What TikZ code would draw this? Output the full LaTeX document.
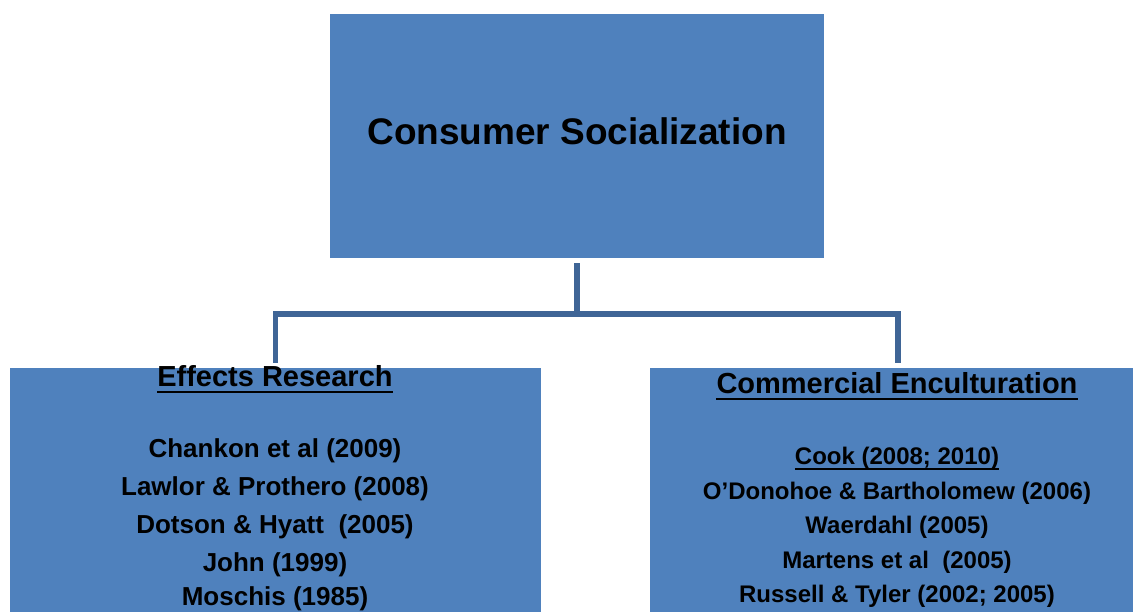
\documentclass[tikz,border=0pt]{standalone}
\usepackage{fontspec}
\setmainfont{Liberation Sans}
\definecolor{boxblue}{HTML}{4F81BD}
\definecolor{linkblue}{HTML}{3F6596}
\tikzset{
    panel/.style={fill=boxblue, draw=none, inner sep=0pt},
    link/.style={draw=linkblue, line width=5.5pt},
    entry/.style={anchor=base, inner sep=0pt, font=\bfseries\fontsize{#1}{#1}\selectfont},
    rulebar/.style={line width=2pt},
}
\begin{document}
\begin{tikzpicture}[x=1pt, y=-1pt]
    \useasboundingbox (0,0) rectangle (1133,612);

    % the three boxes
    \node[panel, minimum width=494pt, minimum height=244pt] (social) at (577,136) {};
    \node[panel, minimum width=531pt, minimum height=252pt] (effects) at (275.5,494) {};
    \node[panel, minimum width=496pt, minimum height=252pt] (enculture) at (898,494) {};

    % connectors
    \coordinate (hub) at (577,314);
    \draw[link] ([yshift=-5pt]social.south) -- (hub);
    \draw[link] (hub) -| ([yshift=5pt]effects.north);
    \draw[link] (hub) -| ([yshift=5pt]enculture.north);

    \node[entry=37] (socialtitle) at (577,145) {Consumer Socialization};

    % left box
    \node[entry=29] (effectshead) at (275,387) {Effects Research};
    \draw[rulebar] ([yshift=-5pt]effectshead.base west) -- ([yshift=-5pt]effectshead.base east);
    \node[entry=26] (chankon) at (275,457) {Chankon et al (2009)};
    \node[entry=26] (lawlor) at (275,495) {Lawlor \& Prothero (2008)};
    \node[entry=26] (dotson) at (275,533) {Dotson \& Hyatt\ \ (2005)};
    \node[entry=26] (john) at (275,571) {John (1999)};
    \node[entry=26] (moschis) at (275,605) {Moschis (1985)};

    % right box
    \node[entry=29] (encultHead) at (897,394) {Commercial Enculturation};
    \draw[rulebar] ([yshift=-5pt]encultHead.base west) -- ([yshift=-5pt]encultHead.base east);
    \node[entry=24] (cook) at (897,464) {Cook (2008; 2010)};
    \draw[rulebar] ([yshift=-5pt]cook.base west) -- ([yshift=-5pt]cook.base east);
    \node[entry=24] (odonohoe) at (897,499) {O’Donohoe \& Bartholomew (2006)};
    \node[entry=24] (waerdahl) at (897,533) {Waerdahl (2005)};
    \node[entry=24] (martens) at (897,568) {Martens et al\ \ (2005)};
    \node[entry=24] (russell) at (897,602) {Russell \& Tyler (2002; 2005)};
\end{tikzpicture}
\end{document}
